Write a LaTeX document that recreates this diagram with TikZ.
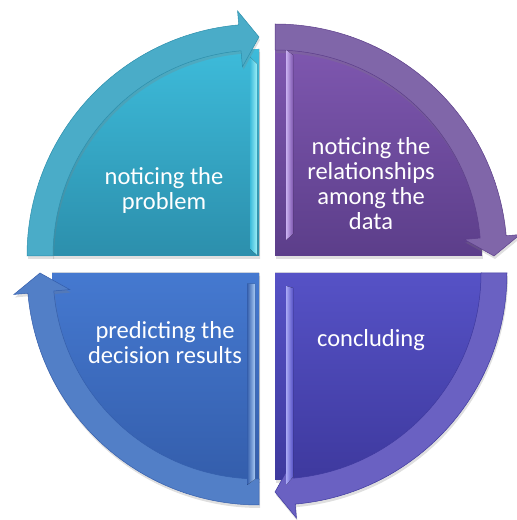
\documentclass[tikz,border=0pt]{standalone}
\usepackage{fontspec}
\setmainfont{Carlito}
\usetikzlibrary{shadows}
\definecolor{tlTop}{HTML}{3DBBDA}
\definecolor{tlBot}{HTML}{2C8FAC}
\definecolor{tlBand}{HTML}{4AACC8}
\definecolor{tlHi}{HTML}{9BEFF8}
\definecolor{trTop}{HTML}{7E57AF}
\definecolor{trBot}{HTML}{5C3E8A}
\definecolor{trBand}{HTML}{8066A9}
\definecolor{trHi}{HTML}{C9B0F0}
\definecolor{blTop}{HTML}{4579D0}
\definecolor{blBot}{HTML}{345EAC}
\definecolor{blBand}{HTML}{527FC7}
\definecolor{blHi}{HTML}{A9CBF5}
\definecolor{brTop}{HTML}{5652C6}
\definecolor{brBot}{HTML}{3E399E}
\definecolor{brBand}{HTML}{6A61C2}
\definecolor{brHi}{HTML}{A9A8F5}

\begin{document}
\begin{tikzpicture}[x=1pt, y=1pt,
    label/.style={text=white, align=center, font=\fontsize{24.5}{25}\selectfont},
    soft/.style={drop shadow={opacity=0.25, shadow xshift=1pt, shadow yshift=-3pt}}]
    \useasboundingbox (0,0) rectangle (517,520);

    % Quadrants: corner, turn, fill colours
    \foreach \cx/\cy/\r/\ca/\cb/\cc in {259/264/0/tlTop/tlBot/tlBand,
                                        275/264/270/trTop/trBot/trBand,
                                        275/247/180/brTop/brBot/brBand,
                                        259/247/90/blTop/blBot/blBand} {
        \begin{scope}[shift={(\cx,\cy)}]
            % Body
            \fill[soft, top color=\ca, bottom color=\cb]
                (0,0) -- (180+\r:207) arc[start angle=180+\r, end angle=90+\r, radius=207] -- cycle;
            % Curved arrow
            \filldraw[soft, fill=\cc, draw=\cb, line width=0.5pt]
                (180+\r:232) arc[start angle=180+\r, end angle=95+\r, radius=232]
                -- (95+\r:246) -- (90+\r:219) -- (95+\r:190) -- (95+\r:206)
                arc[start angle=95+\r, end angle=180+\r, radius=206] -- cycle;
        \end{scope}
    }

    % Bevel highlights
    \fill[left color=tlTop, right color=tlHi] (250,271) -- (257,265) -- (257,456) -- (250,463) -- cycle;
    \fill[left color=trHi, right color=trTop] (286,280) -- (293,286) -- (293,465) -- (286,470) -- cycle;
    \fill[left color=blBot, right color=blHi] (247,35) -- (255,41) -- (255,236) -- (247,236) -- cycle;
    \fill[left color=brHi, right color=brTop] (286,35) -- (293,43) -- (293,232) -- (286,234) -- cycle;

    % Labels
    \node[label] (notice) at (164,330) {noticing the\\problem};
    \node[label] (relate) at (371,336) {noticing the\\relationships\\among the\\data};
    \node[label] (predict) at (165,177) {predicting the\\decision results};
    \node[label] (conclude) at (371,180) {concluding};
\end{tikzpicture}
\end{document}
